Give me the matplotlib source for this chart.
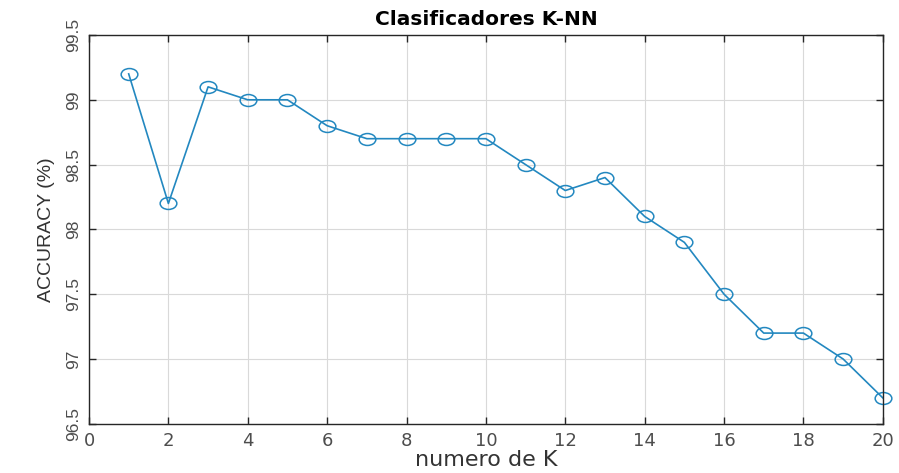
import matplotlib
matplotlib.use("Agg")
import matplotlib.pyplot as plt
from matplotlib.path import Path
from matplotlib.transforms import Affine2D

# Accuracy of the K-NN classifier for each value of K
k_values = list(range(1, 21))
accuracy = [99.2, 98.2, 99.1, 99.0, 99.0, 98.8, 98.7, 98.7, 98.7, 98.7,
            98.5, 98.3, 98.4, 98.1, 97.9, 97.5, 97.2, 97.2, 97.0, 96.7]
x_ticks = list(range(0, 21, 2))
y_ticks = [96.5, 97, 97.5, 98, 98.5, 99, 99.5]
y_tick_labels = ["96.5", "97", "97.5", "98", "98.5", "99", "99.5"]

plt.rcParams["font.family"] = ["Liberation Sans", "DejaVu Sans"]

# slightly flattened circle for the markers
oval = Path.unit_circle().transformed(Affine2D().scale(1.4, 1.0))

fig = plt.figure(figsize=(8.99, 4.73), dpi=100)
ax = fig.add_axes([0.099, 0.104, 0.883, 0.822])

ax.plot(k_values, accuracy, color="#2388c0", linewidth=1.2,
        marker=oval, markersize=12, markerfacecolor="none",
        markeredgecolor="#2388c0", markeredgewidth=1.1, clip_on=False)

ax.set_xlim(0, 20)
ax.set_ylim(96.5, 99.5)
ax.set_xticks(x_ticks)
ax.set_yticks(y_ticks)
ax.set_yticklabels(y_tick_labels, rotation=90, va="center")

ax.grid(True, color="#d9d9d9", linewidth=0.8)
ax.set_axisbelow(True)
ax.tick_params(direction="in", length=5, width=1, colors="#262626",
               labelsize=12.5, top=True, right=True, pad=6)
for label in ax.get_xticklabels():
    label.set_color("#4d4d4d")
    label.set_fontfamily("DejaVu Sans")
    label.set_fontsize(13)
for label in ax.get_yticklabels():
    label.set_color("#4d4d4d")
for spine in ax.spines.values():
    spine.set_color("#262626")
    spine.set_linewidth(1.0)

ax.set_title("Clasificadores K-NN", fontsize=14.5, fontweight="bold",
             family="DejaVu Sans", pad=7)
ax.set_xlabel("numero de K", fontsize=16, color="#333333",
              family="DejaVu Sans", labelpad=0)
ax.set_ylabel("ACCURACY (%)", fontsize=14, color="#333333", labelpad=8)

fig.savefig("out.png", dpi=100)
